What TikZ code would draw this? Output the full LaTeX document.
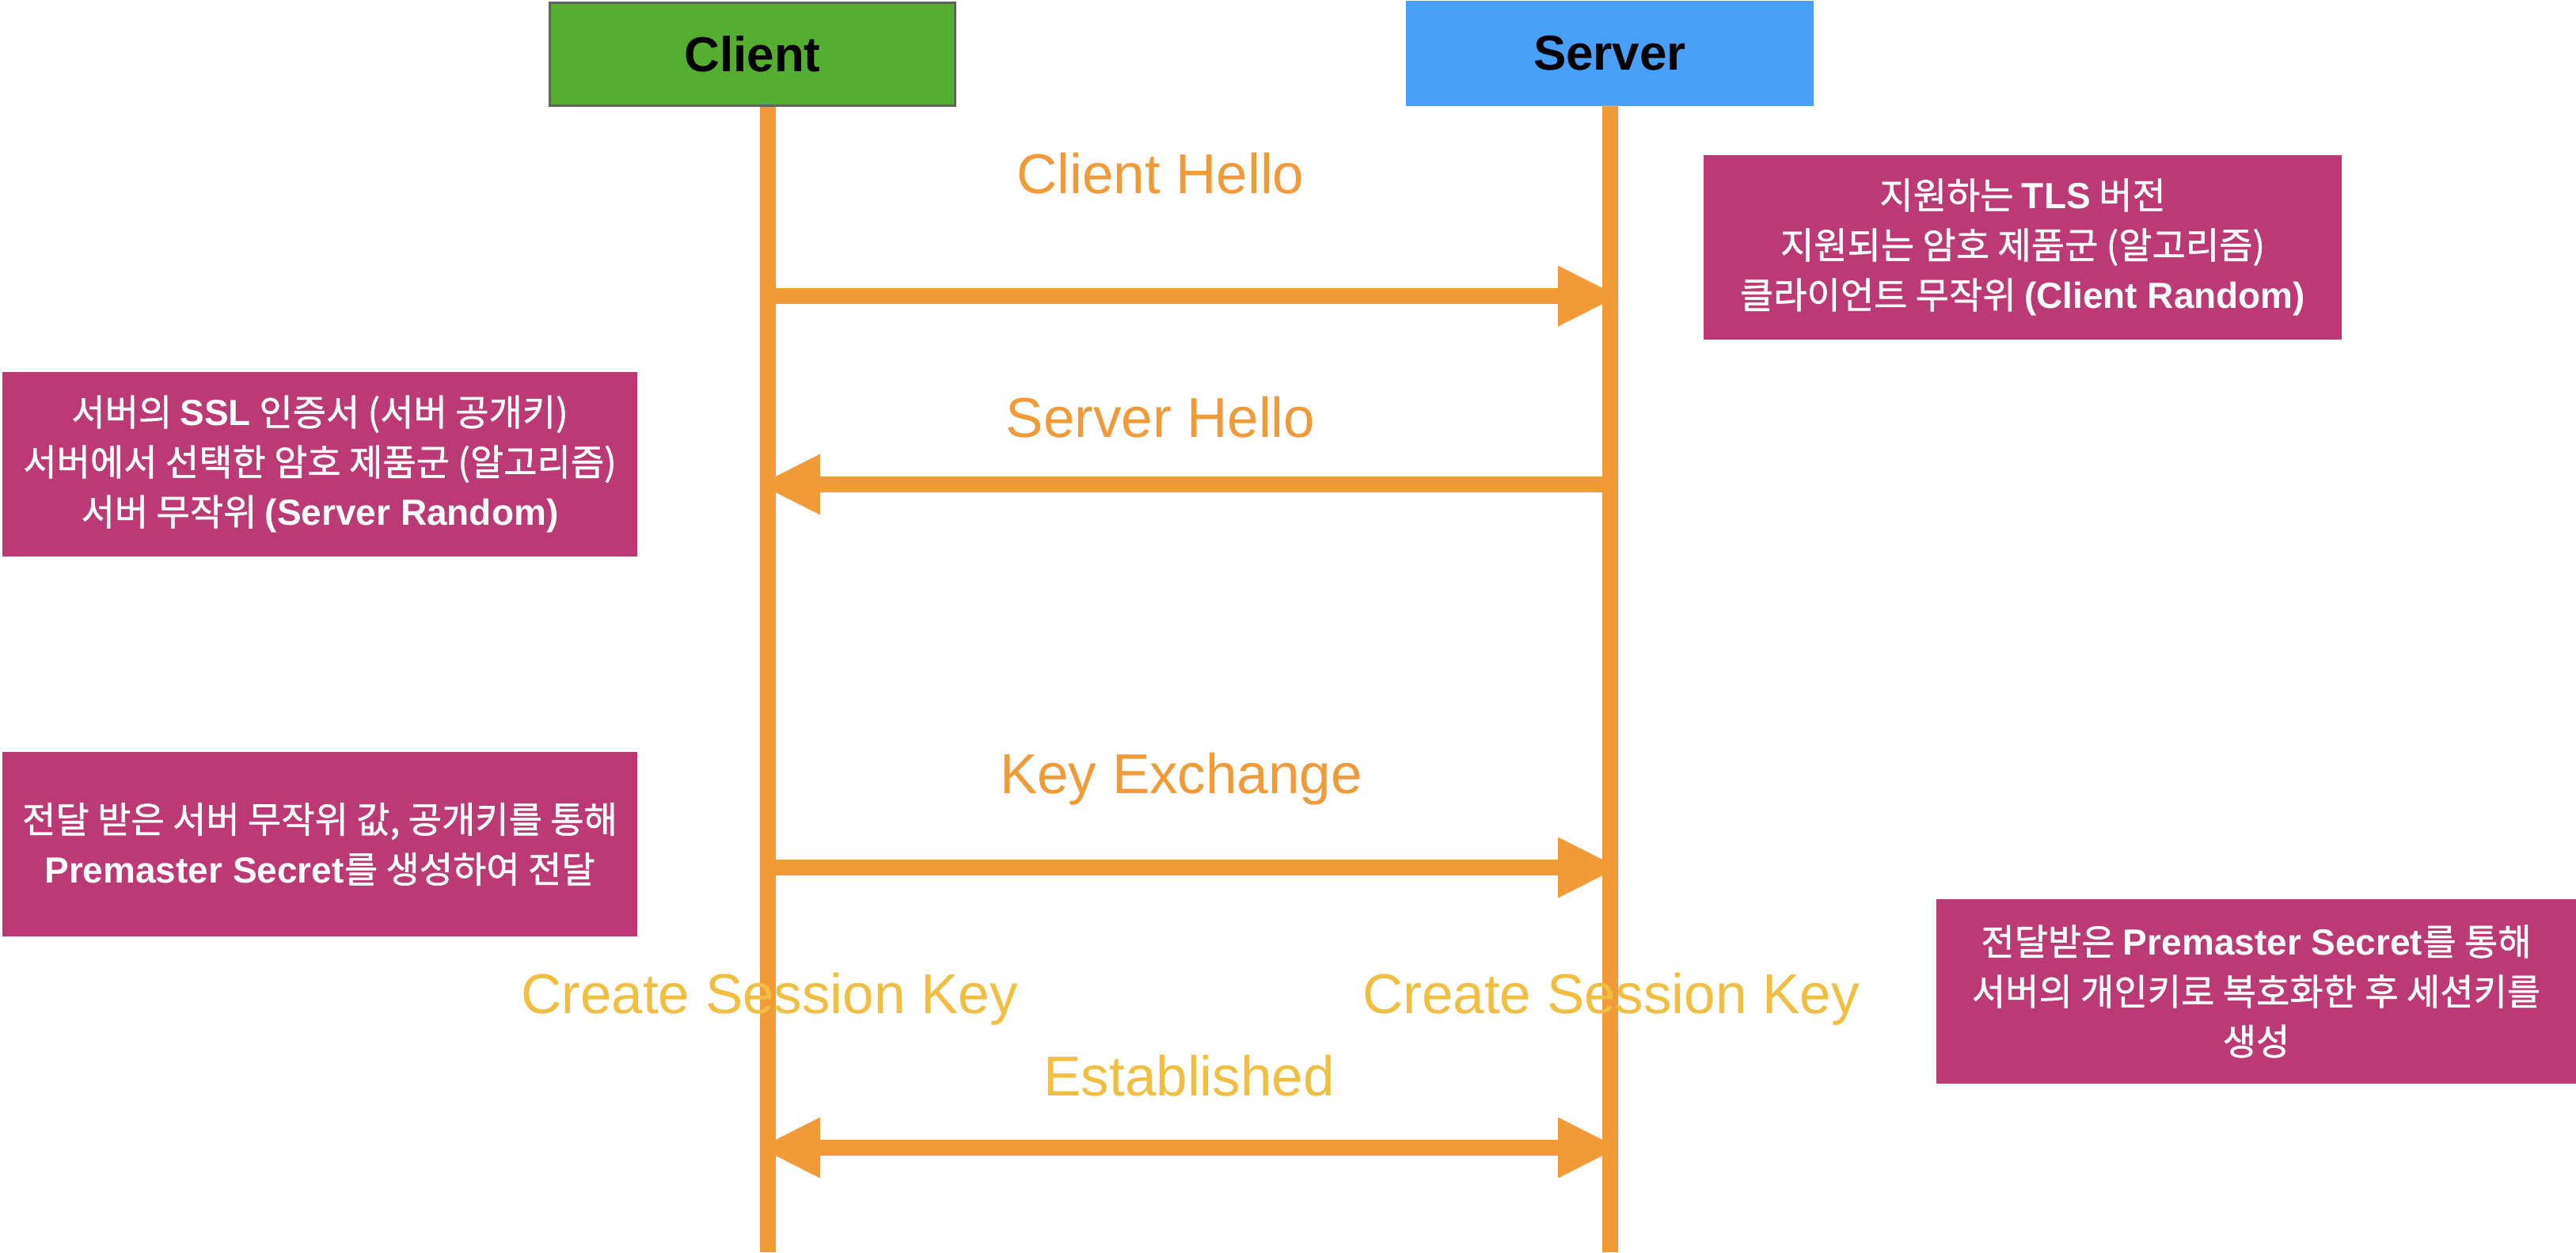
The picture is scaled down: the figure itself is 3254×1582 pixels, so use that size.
\documentclass[tikz,border=0pt]{standalone}
\usepackage{fontspec}
\setmainfont{Liberation Sans}
\newfontfamily\kr{Noto Sans CJK KR}[RawFeature={embolden=1.2}]
\newfontfamily\lsb{Liberation Sans}
\newcommand\LB[1]{{\lsb\bfseries #1}}
\usetikzlibrary{arrows.meta}
\definecolor{lineor}{RGB}{240,154,56}
\definecolor{labor}{RGB}{240,154,58}
\definecolor{labye}{RGB}{240,190,65}
\definecolor{cgreen}{RGB}{85,174,50}
\definecolor{sblue}{RGB}{74,159,248}
\definecolor{notemag}{RGB}{187,57,117}
\definecolor{bordgray}{RGB}{98,98,98}
\tikzset{
  actorbox/.style={inner sep=0pt, minimum width=515pt, minimum height=133pt,
    font=\fontsize{62}{70}\selectfont\bfseries, text=black},
  lifeline/.style={draw=lineor, line width=20pt},
  msg/.style={draw=lineor, line width=20pt,
    -{Triangle[length=76pt,width=77pt,line width=0pt]}},
  msgboth/.style={draw=lineor, line width=20pt,
    {Triangle[length=76pt,width=77pt,line width=0pt]}-{Triangle[length=76pt,width=77pt,line width=0pt]}},
  msglabel/.style={inner sep=0pt, anchor=base, text=labor, font=\fontsize{71}{85}\selectfont},
  keylabel/.style={inner sep=0pt, anchor=base, text=labye, font=\fontsize{71}{85}\selectfont},
  note/.style={fill=notemag, text=white, inner sep=0pt, align=center,
    minimum height=233pt, font=\kr\fontsize{46}{63}\selectfont},
}
\begin{document}
\begin{tikzpicture}[x=1pt, y=-1pt]
\useasboundingbox (0,0) rectangle (3254,1582);
\fill[white] (0,0) rectangle (3254,1582);

% actors
\node[actorbox, fill=cgreen, draw=bordgray, line width=3pt, minimum width=512pt, minimum height=130pt] (client) at (950.5,68.5) {Client};
\node[actorbox, fill=sblue] (server) at (2033.5,67.5) {Server};

% lifelines
\coordinate (cltop) at (970,135);
\coordinate (clbot) at (970,1582);
\coordinate (svtop) at (2034,133);
\coordinate (svbot) at (2034,1582);
\draw[lifeline] (cltop) -- (clbot);
\draw[lifeline] (svtop) -- (svbot);

% messages
\coordinate (m1a) at (970,374);
\coordinate (m1b) at (2044,374);
\draw[msg] (m1a) -- (m1b);
\coordinate (m2a) at (2034,612);
\coordinate (m2b) at (960,612);
\draw[msg] (m2a) -- (m2b);
\coordinate (m3a) at (970,1096);
\coordinate (m3b) at (2044,1096);
\draw[msg] (m3a) -- (m3b);
\coordinate (m4a) at (960,1450);
\coordinate (m4b) at (2044,1450);
\draw[msgboth] (m4a) -- (m4b);

% labels
\node[msglabel] (lch) at (1466,244) {Client Hello};
\node[msglabel] (lsh) at (1466,552) {Server Hello};
\node[msglabel] (lke) at (1492,1002) {Key Exchange};
\node[keylabel] (lcsk1) at (972,1280) {Create Session Key};
\node[keylabel] (lcsk2) at (2035,1280) {Create Session Key};
\node[keylabel] (lest) at (1502,1384) {Established};

% notes
\node[note, minimum width=806pt] (noteA) at (2555,312.5)
  {지원하는 \LB{TLS} 버전\\
   지원되는 암호 제품군 (알고리즘)\\
   클라이언트 무작위 \LB{(Client Random)}};
\node[note, minimum width=802pt] (noteB) at (404,586.5)
  {서버의 \LB{SSL} 인증서 (서버 공개키)\\
   서버에서 선택한 암호 제품군 (알고리즘)\\
   서버 무작위 \LB{(Server Random)}};
\node[note, minimum width=802pt] (noteC) at (404,1066.5)
  {전달 받은 서버 무작위 값, 공개키를 통해\\
   \LB{Premaster Secret}를 생성하여 전달};
\node[note, minimum width=808pt] (noteD) at (2850,1252.5)
  {전달받은 \LB{Premaster Secret}를 통해\\
   서버의 개인키로 복호화한 후 세션키를\\
   생성};
\end{tikzpicture}
\end{document}
